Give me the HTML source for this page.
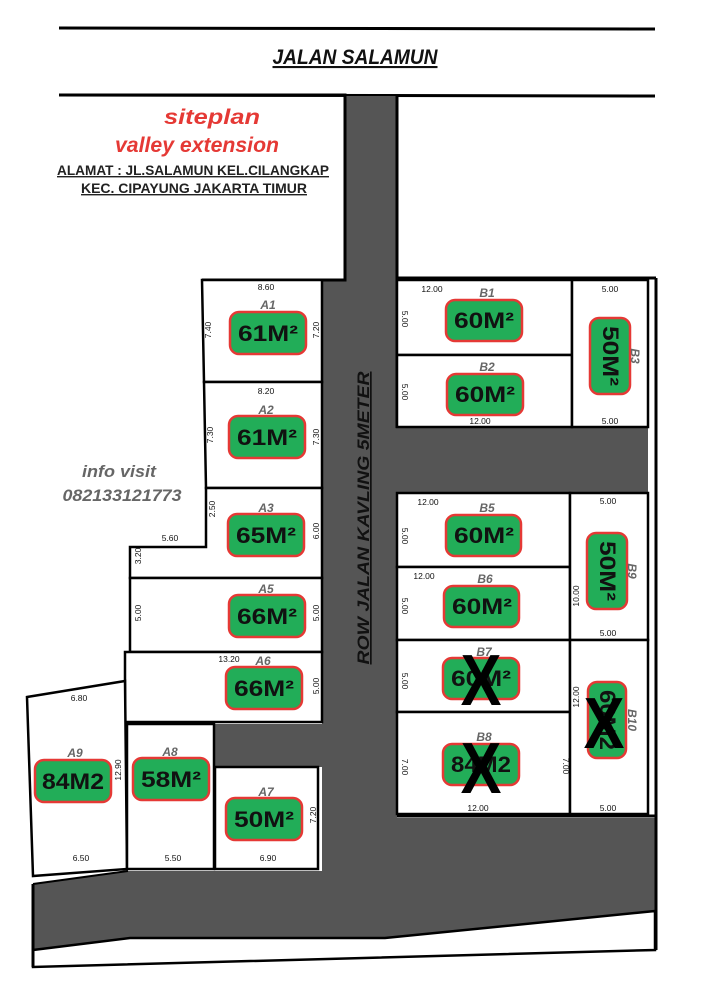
<!DOCTYPE html>
<html><head><meta charset="utf-8"><style>
html,body{margin:0;padding:0;background:#fff;}
svg{display:block;}
.n{font-family:"Liberation Sans Narrow","Liberation Sans",sans-serif;font-size:8.5px;fill:#111;}
.l{font-family:"Liberation Sans",sans-serif;font-size:12px;font-weight:bold;font-style:italic;fill:#666;}
.m{font-family:"Liberation Sans Narrow","Liberation Sans",sans-serif;font-size:22px;font-weight:bold;fill:#111;}
.g{fill:#22ad58;stroke:#e53935;stroke-width:2.5;}
.x{font-family:"Liberation Sans",sans-serif;font-size:72px;font-weight:bold;fill:#000;}
</style></head><body>
<svg width="706" height="1000" viewBox="0 0 706 1000" xmlns="http://www.w3.org/2000/svg">
<rect width="706" height="1000" fill="#fff"/>
<line x1="59" y1="28" x2="655" y2="29" stroke="#000" stroke-width="3"/>
<line x1="59" y1="95" x2="655" y2="96" stroke="#000" stroke-width="3"/>
<text x="355" y="64" text-anchor="middle" font-family="Liberation Sans Narrow, Liberation Sans, sans-serif" font-size="21" font-weight="bold" font-style="italic" text-decoration="underline" fill="#111" textLength="165" lengthAdjust="spacingAndGlyphs">JALAN SALAMUN</text>
<polygon fill="#555" points="345,96 397,96 397,428 648,428 648,493 397,493 397,818 655,818 655,911 385,938 130,938 33,950 33,884 128,871 322,871 322,767 215,767 215,724 322,724 322,280 345,280"/>
<polygon fill="#fff" stroke="#000" stroke-width="2.5" points="33,950 130,938 385,938 655,911 655,950 33,967"/>
<line x1="33" y1="884" x2="33" y2="967" stroke="#000" stroke-width="3"/>
<line x1="33" y1="884" x2="128" y2="871" stroke="#000" stroke-width="2"/>
<polyline fill="none" stroke="#000" stroke-width="3" points="59,95 345,95 345,280 202,280"/>
<line x1="397" y1="96" x2="397" y2="428" stroke="#000" stroke-width="3"/>
<g fill="#fff" stroke="#000" stroke-width="2.5">
<rect x="397" y="280" width="175" height="75"/>
<rect x="397" y="355" width="175" height="72"/>
<rect x="572" y="280" width="76" height="147"/>
<rect x="397" y="493" width="173" height="74"/>
<rect x="397" y="567" width="173" height="73"/>
<rect x="570" y="493" width="78" height="147"/>
<rect x="397" y="640" width="173" height="72"/>
<rect x="397" y="712" width="173" height="102"/>
<rect x="570" y="640" width="78" height="174"/>
</g>
<line x1="656" y1="278" x2="656" y2="950" stroke="#000" stroke-width="3"/>
<line x1="397" y1="278" x2="656" y2="278" stroke="#000" stroke-width="3"/>
<line x1="397" y1="816" x2="656" y2="816" stroke="#000" stroke-width="3"/>
<g fill="#fff" stroke="#000" stroke-width="2.5">
<polygon points="202,280 322,280 322,382 204,382"/>
<polygon points="204,382 322,382 322,488 206,488"/>
<polygon points="206,488 322,488 322,578 130,578 130,547 206,547"/>
<rect x="130" y="578" width="192" height="74"/>
<rect x="125" y="652" width="197" height="70"/>
<polygon points="27,697 125,681 127,869 33,876"/>
<rect x="127" y="724" width="87" height="145"/>
<rect x="215" y="767" width="103" height="102"/>
</g>
<g font-family="Liberation Sans Narrow, Liberation Sans, sans-serif" font-weight="bold" font-style="italic" fill="#e53935" text-anchor="middle">
<text x="212" y="124" font-size="21" textLength="96" lengthAdjust="spacingAndGlyphs">siteplan</text>
<text x="197" y="152" font-size="21" textLength="164" lengthAdjust="spacingAndGlyphs">valley extension</text>
</g>
<g font-family="Liberation Sans Narrow, Liberation Sans, sans-serif" font-size="14" font-weight="bold" fill="#222" text-anchor="middle" text-decoration="underline">
<text x="193" y="175" textLength="272" lengthAdjust="spacingAndGlyphs">ALAMAT : JL.SALAMUN KEL.CILANGKAP</text>
<text x="194" y="193" textLength="226" lengthAdjust="spacingAndGlyphs">KEC. CIPAYUNG JAKARTA TIMUR</text>
</g>
<g font-family="Liberation Sans Narrow, Liberation Sans, sans-serif" font-size="17" font-weight="bold" font-style="italic" fill="#666" text-anchor="middle">
<text x="119" y="477" textLength="74" lengthAdjust="spacingAndGlyphs">info visit</text>
<text x="122" y="501" textLength="119" lengthAdjust="spacingAndGlyphs">082133121773</text>
</g>
<text transform="translate(369,518) rotate(-90)" text-anchor="middle" font-family="Liberation Sans, sans-serif" font-size="17" font-weight="bold" font-style="italic" fill="#111" text-decoration="underline" textLength="293" lengthAdjust="spacingAndGlyphs">ROW JALAN KAVLING 5METER</text>
<g>
<rect class="g" x="230" y="312" width="76" height="42" rx="9"/><text class="m" x="268" y="341" text-anchor="middle" textLength="60" lengthAdjust="spacingAndGlyphs">61M²</text>
<rect class="g" x="229" y="416" width="76" height="42" rx="9"/><text class="m" x="267" y="445" text-anchor="middle" textLength="60" lengthAdjust="spacingAndGlyphs">61M²</text>
<rect class="g" x="228" y="514" width="76" height="42" rx="9"/><text class="m" x="266" y="543" text-anchor="middle" textLength="60" lengthAdjust="spacingAndGlyphs">65M²</text>
<rect class="g" x="229" y="595" width="76" height="42" rx="9"/><text class="m" x="267" y="624" text-anchor="middle" textLength="60" lengthAdjust="spacingAndGlyphs">66M²</text>
<rect class="g" x="226" y="667" width="76" height="42" rx="9"/><text class="m" x="264" y="696" text-anchor="middle" textLength="60" lengthAdjust="spacingAndGlyphs">66M²</text>
<rect class="g" x="35" y="760" width="76" height="42" rx="9"/><text class="m" x="73" y="789" text-anchor="middle" textLength="62" lengthAdjust="spacingAndGlyphs">84M2</text>
<rect class="g" x="133" y="758" width="76" height="42" rx="9"/><text class="m" x="171" y="787" text-anchor="middle" textLength="60" lengthAdjust="spacingAndGlyphs">58M²</text>
<rect class="g" x="226" y="798" width="76" height="42" rx="9"/><text class="m" x="264" y="827" text-anchor="middle" textLength="60" lengthAdjust="spacingAndGlyphs">50M²</text>
<rect class="g" x="446" y="300" width="76" height="41" rx="9"/><text class="m" x="484" y="328" text-anchor="middle" textLength="60" lengthAdjust="spacingAndGlyphs">60M²</text>
<rect class="g" x="447" y="374" width="76" height="41" rx="9"/><text class="m" x="485" y="402" text-anchor="middle" textLength="60" lengthAdjust="spacingAndGlyphs">60M²</text>
<rect class="g" x="590" y="318" width="40" height="76" rx="9"/><text class="m" transform="translate(603,356) rotate(90)" text-anchor="middle" textLength="60" lengthAdjust="spacingAndGlyphs">50M²</text>
<rect class="g" x="446" y="515" width="75" height="41" rx="9"/><text class="m" x="484" y="543" text-anchor="middle" textLength="60" lengthAdjust="spacingAndGlyphs">60M²</text>
<rect class="g" x="444" y="586" width="75" height="41" rx="9"/><text class="m" x="482" y="614" text-anchor="middle" textLength="60" lengthAdjust="spacingAndGlyphs">60M²</text>
<rect class="g" x="587" y="533" width="40" height="76" rx="9"/><text class="m" transform="translate(600,571) rotate(90)" text-anchor="middle" textLength="60" lengthAdjust="spacingAndGlyphs">50M²</text>
<rect class="g" x="443" y="658" width="76" height="41" rx="9"/><text class="m" x="481" y="686" text-anchor="middle" textLength="60" lengthAdjust="spacingAndGlyphs">60M²</text>
<rect class="g" x="443" y="744" width="76" height="41" rx="9"/><text class="m" x="481" y="772" text-anchor="middle" textLength="60" lengthAdjust="spacingAndGlyphs">84M2</text>
<rect class="g" x="588" y="682" width="38" height="76" rx="9"/><text class="m" transform="translate(600,720) rotate(90)" text-anchor="middle" textLength="60" lengthAdjust="spacingAndGlyphs">60M2</text>
</g>
<text class="x" transform="translate(481,705) scale(0.85,1)" text-anchor="middle">X</text>
<text class="x" transform="translate(481,793) scale(0.85,1)" text-anchor="middle">X</text>
<text class="x" transform="translate(604,748) scale(0.85,1)" text-anchor="middle">X</text>
<g class="l" text-anchor="middle">
<text class="l" x="268" y="309">A1</text>
<text class="l" x="266" y="414">A2</text>
<text class="l" x="266" y="512">A3</text>
<text class="l" x="266" y="593">A5</text>
<text class="l" x="263" y="665">A6</text>
<text class="l" x="75" y="757">A9</text>
<text class="l" x="170" y="756">A8</text>
<text class="l" x="266" y="796">A7</text>
<text class="l" x="487" y="297">B1</text>
<text class="l" x="487" y="371">B2</text>
<text class="l" x="487" y="512">B5</text>
<text class="l" x="485" y="583">B6</text>
<text class="l" x="484" y="656">B7</text>
<text class="l" x="484" y="741">B8</text>
</g>
<text class="l" transform="translate(631,356) rotate(90)" text-anchor="middle">B3</text>
<text class="l" transform="translate(628,571) rotate(90)" text-anchor="middle">B9</text>
<text class="l" transform="translate(628,720) rotate(90)" text-anchor="middle">B10</text>
<g class="n" text-anchor="middle">
<text x="266" y="290">8.60</text>
<text x="266" y="394">8.20</text>
<text x="170" y="541">5.60</text>
<text x="229" y="662">13.20</text>
<text x="79" y="701">6.80</text>
<text x="81" y="861">6.50</text>
<text x="173" y="861">5.50</text>
<text x="268" y="861">6.90</text>
<text x="432" y="292">12.00</text>
<text x="610" y="292">5.00</text>
<text x="480" y="424">12.00</text>
<text x="610" y="424">5.00</text>
<text x="428" y="505">12.00</text>
<text x="608" y="504">5.00</text>
<text x="424" y="579">12.00</text>
<text x="608" y="636">5.00</text>
<text x="478" y="811">12.00</text>
<text x="608" y="811">5.00</text>
</g>
<g class="n" text-anchor="middle">
<text transform="translate(211,330) rotate(-90)">7.40</text>
<text transform="translate(319,330) rotate(-90)">7.20</text>
<text transform="translate(213,435) rotate(-90)">7.30</text>
<text transform="translate(319,437) rotate(-90)">7.30</text>
<text transform="translate(215,509) rotate(-90)">2.50</text>
<text transform="translate(141,556) rotate(-90)">3.20</text>
<text transform="translate(319,531) rotate(-90)">6.00</text>
<text transform="translate(141,613) rotate(-90)">5.00</text>
<text transform="translate(319,613) rotate(-90)">5.00</text>
<text transform="translate(319,686) rotate(-90)">5.00</text>
<text transform="translate(121,770) rotate(-90)">12.90</text>
<text transform="translate(316,815) rotate(-90)">7.20</text>
<text transform="translate(579,596) rotate(-90)">10.00</text>
<text transform="translate(579,697) rotate(-90)">12.00</text>
</g>
<g class="n" text-anchor="middle">
<text transform="translate(402,319) rotate(90)">5.00</text>
<text transform="translate(402,392) rotate(90)">5.00</text>
<text transform="translate(402,536) rotate(90)">5.00</text>
<text transform="translate(402,606) rotate(90)">5.00</text>
<text transform="translate(402,681) rotate(90)">5.00</text>
<text transform="translate(402,767) rotate(90)">7.00</text>
<text transform="translate(563,766) rotate(90)">7.00</text>
</g>
</svg>
</body></html>
